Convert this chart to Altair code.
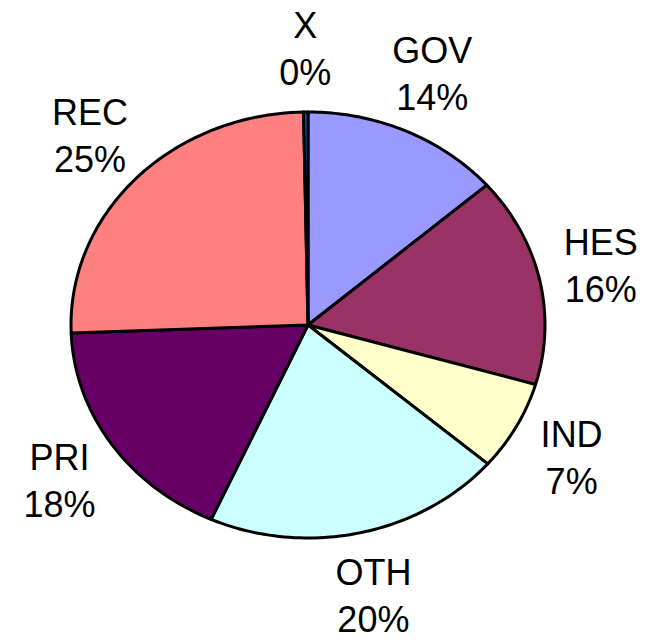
import altair as alt
import pandas as pd

categories = ["GOV", "HES", "IND", "OTH", "PRI", "REC", "X"]
shares = [13.6, 15.9, 6.8, 20.4, 17.7, 25.3, 0.3]
colors = ["#9999FF", "#993366", "#FFFFCC", "#CCFFFF", "#660066", "#FF8080", "#0066CC"]

# layout (pixels inside the chart)
W, H = 631, 632
CX, CY = 300, 317
RX, RY = 237, 213
LABEL_RX, LABEL_RY = 1.265, 1.30
STEPS = 60

total = sum(shares)
poly_rows = []
label_rows = []
start = 0.0
for c, v in zip(categories, shares):
    end = start + v / total
    poly_rows.append(dict(cat=c, start=start, end=end, step=-1))
    for i in range(STEPS + 1):
        poly_rows.append(dict(cat=c, start=start, end=end, step=i))
    label_rows.append(dict(cat=c, start=start, end=end, label=f"{c}\n{round(v / total * 100)}%"))
    start = end

poly_df = pd.DataFrame(poly_rows)
label_df = pd.DataFrame(label_rows)

xdom = [-CX / RX, (W - CX) / RX]
ydom = [(CY - H) / RY, CY / RY]
xs = alt.Scale(domain=xdom, nice=False, zero=False)
ys = alt.Scale(domain=ydom, nice=False, zero=False)

slices = alt.Chart(poly_df).transform_calculate(
    ang=f"2*PI*(datum.start + (datum.end - datum.start) * datum.step / {STEPS})"
).transform_calculate(
    px="datum.step < 0 ? 0 : sin(datum.ang)",
    py="datum.step < 0 ? 0 : cos(datum.ang)",
).mark_line(
    interpolate="linear-closed", stroke="black", strokeWidth=3, strokeJoin="round"
).encode(
    x=alt.X("px:Q", scale=xs, axis=None),
    y=alt.Y("py:Q", scale=ys, axis=None),
    fill=alt.Fill("cat:N", scale=alt.Scale(domain=categories, range=colors), legend=None),
    detail="cat:N",
    order=alt.Order("step:Q"),
)

labels = alt.Chart(label_df).transform_calculate(
    mid="PI*(datum.start + datum.end)"
).transform_calculate(
    lx=f"{LABEL_RX}*sin(datum.mid)",
    ly=f"{LABEL_RY}*cos(datum.mid)",
).mark_text(
    font="Liberation Sans", fontSize=36, lineBreak="\n", lineHeight=47,
    align="center", baseline="middle", color="black", dy=-21
).encode(
    x=alt.X("lx:Q", scale=xs, axis=None),
    y=alt.Y("ly:Q", scale=ys, axis=None),
    text="label:N",
)

chart = alt.layer(slices, labels).properties(
    width=W, height=H, padding=0, autosize="none"
).configure_view(stroke=None)

chart.save("out.html", embed_options={"renderer": "svg", "actions": False})
